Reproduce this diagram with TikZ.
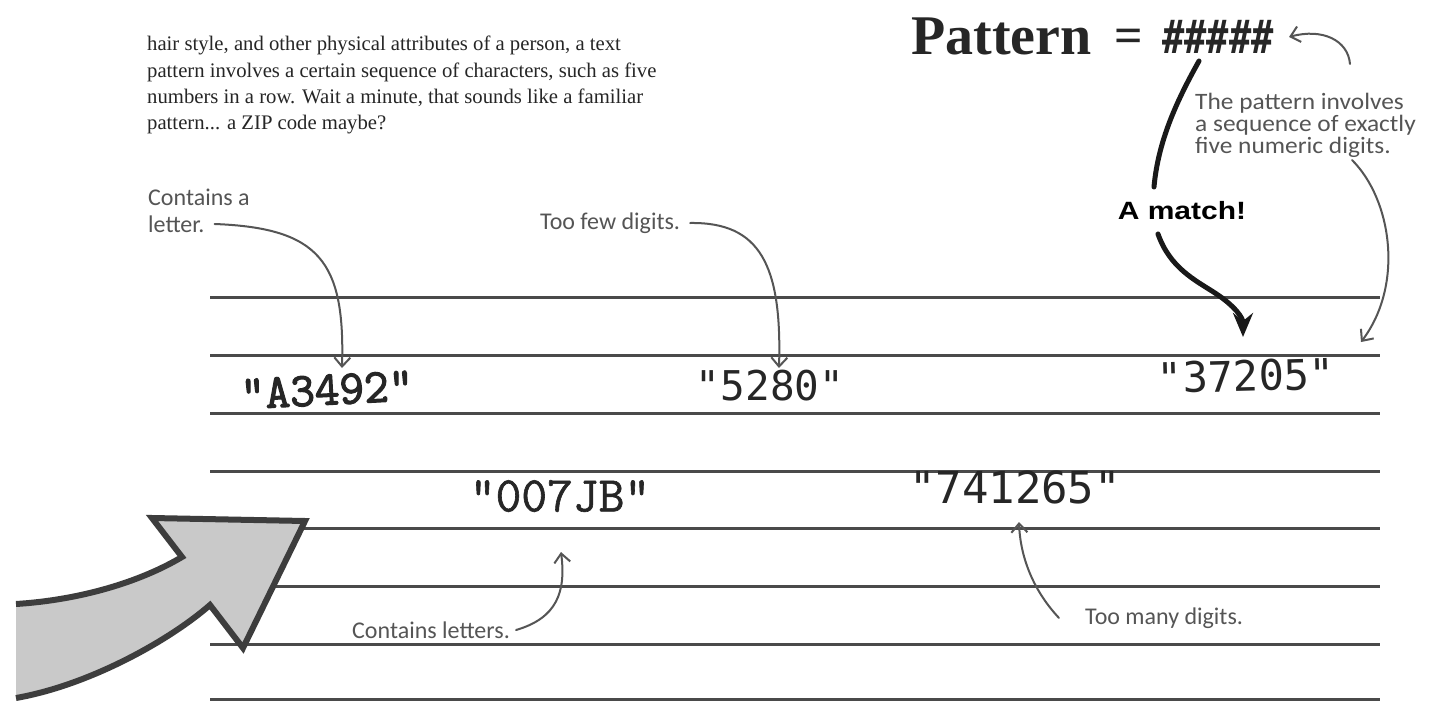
\documentclass[tikz,border=0pt]{standalone}
\usepackage{fontspec}
\setmainfont{Liberation Serif}
\newfontfamily\handfont{Carlito}
\newfontfamily\titlefont{Liberation Serif}
\newfontfamily\boldsans{Liberation Sans}
\newfontfamily\courbold{Latin Modern Mono}[FakeBold=2.5]
\newfontfamily\courmed{Latin Modern Mono}[FakeBold=1.2]
\newfontfamily\sansmono{DejaVu Sans Mono}
\usetikzlibrary{arrows.meta}
\definecolor{rulecol}{HTML}{4A4A4A}
\definecolor{handcol}{HTML}{555555}
\definecolor{ink}{HTML}{262626}
\definecolor{bigfill}{HTML}{C9C9C9}
\definecolor{bigedge}{HTML}{3D3D3D}
\begin{document}
\begin{tikzpicture}[x=1pt,y=-1pt,
  ruled/.style={draw=rulecol,line width=3pt},
  handnote/.style={font=\handfont\fontsize{24}{27}\selectfont,text=handcol,inner sep=0pt,align=left},
  handarrow/.style={draw=handcol,line width=2pt,line cap=round,-{Straight Barb[length=9pt,width=16pt,line width=2pt]}},
  codestr/.style={inner sep=0pt,text=ink},
  matchline/.style={draw=black!90,line width=5pt,line cap=round},
  matcharrow/.style={draw=black!90,line width=5pt,line cap=round,-{Stealth[length=24pt,width=20pt,inset=8pt]}}
]
\useasboundingbox (0,0) rectangle (1433,701);
\fill[white] (0,0) rectangle (1433,701);

% ruled lines
\foreach \yy in {297,355,413,471,528,586,644,699}
  \draw[ruled] (210,\yy) -- (1380,\yy);

% paragraph
\node[anchor=north west,inner sep=0pt,align=left,text=ink,
      font=\fontsize{20.7}{26.4}\selectfont] (para) at (147,36)
 {hair style, and other physical attributes of a person, a text\\
  pattern involves a certain sequence of characters, such as five\\
  numbers in a row. Wait a minute, that sounds like a familiar\\
  pattern... a ZIP code maybe?};

% title
\node[anchor=base west,inner sep=0pt,text=ink,font=\titlefont\bfseries\fontsize{56}{56}\selectfont] (pat) at (911,55) {Pattern};
\node[anchor=base,inner sep=0pt,text=ink,font=\titlefont\bfseries\fontsize{50}{50}\selectfont] (eq) at (1129,53) {=};
\node[anchor=base west,inner sep=0pt,text=ink,yscale=1.25,font=\sansmono\bfseries\fontsize{37}{37}\selectfont] (hash) at (1162,54) {\#\#\#\#\#};

% right note
\node[handnote,anchor=north west,xscale=1.08,font=\handfont\fontsize{23.5}{22}\selectfont] (pinv) at (1195,93)
 {The pattern involves\\a sequence of exactly\\five numeric digits.};

% A match
\node[anchor=base,inner sep=0pt,text=black,xscale=1.2,font=\boldsans\bfseries\fontsize{25}{25}\selectfont] (match) at (1182,219) {A match!};

% code strings
\node[codestr,rotate=3,font=\courbold\fontsize{48}{48}\selectfont] (s1) at (327,390) {"A3492"};
\node[codestr,font=\sansmono\fontsize{41}{41}\selectfont] (s2) at (770,386) {"5280"};
\node[codestr,rotate=1.5,font=\sansmono\fontsize{42}{42}\selectfont] (s3) at (1246,376) {"37205"};
\node[codestr,font=\courmed\fontsize{50}{50}\selectfont] (s4) at (560,496) {"007JB"};
\node[codestr,font=\sansmono\fontsize{44}{44}\selectfont] (s5) at (1015,487) {"741265"};

% hand notes
\node[handnote,anchor=west] (cla) at (148,197) {Contains a};
\node[handnote,anchor=west] (clb) at (148,224) {letter.};
\node[handnote,anchor=west] (tf) at (540,223) {Too few digits.};
\node[handnote,anchor=west] (clet) at (352,630) {Contains letters.};
\node[handnote,anchor=west] (tm) at (1085,618) {Too many digits.};

% connector end points
\coordinate (tipA) at (342,368);
\coordinate (tipB) at (779,368);
\coordinate (tipC) at (561,552);
\coordinate (tipD) at (1019,522);
\coordinate (tipH) at (1289,37);
\coordinate (tailH) at (1350,64);
\coordinate (tailR) at (1352,160);
\coordinate (tipR) at (1361,342);
\coordinate (mtop) at (1199,61);
\coordinate (mbot) at (1154,187);
\coordinate (mstart) at (1158,234);
\coordinate (tipM) at (1243,337);

% gray connectors
\draw[handarrow] ([xshift=10pt]clb.east) .. controls (320,228) and (345,262) .. (tipA);
\draw[handarrow] ([xshift=10pt]tf.east) .. controls (760,222) and (782,265) .. (tipB);
\draw[handarrow] ([xshift=6pt]clet.east) .. controls (557,618) and (566,592) .. (tipC);
\draw[handarrow] ([xshift=-26pt]tm.west) .. controls (1030,587) and (1020,552) .. (tipD);
\draw[handarrow] (tailH) .. controls (1348,40) and (1322,28) .. (tipH);
\draw[handarrow] (tailR) .. controls (1392,200) and (1404,285) .. (tipR);

% black connectors
\draw[matchline] (mtop) .. controls (1176,102) and (1158,142) .. (mbot);
\draw[matcharrow] (mstart) .. controls (1170,268) and (1195,280) .. (1215,293) .. controls (1235,306) and (1243,318) .. (tipM);

% big arrow
\fill[bigfill] (16,604) .. controls (80,600) and (140,582) .. (182,557) -- (152,518) -- (305,521) -- (243,648) -- (210,605) .. controls (170,640) and (90,685) .. (16,698) -- cycle;
\draw[bigedge,line width=6pt,line join=miter] (16,604) .. controls (80,600) and (140,582) .. (182,557) -- (152,518) -- (305,521) -- (243,648) -- (210,605) .. controls (170,640) and (90,685) .. (16,698);
\end{tikzpicture}
\end{document}
